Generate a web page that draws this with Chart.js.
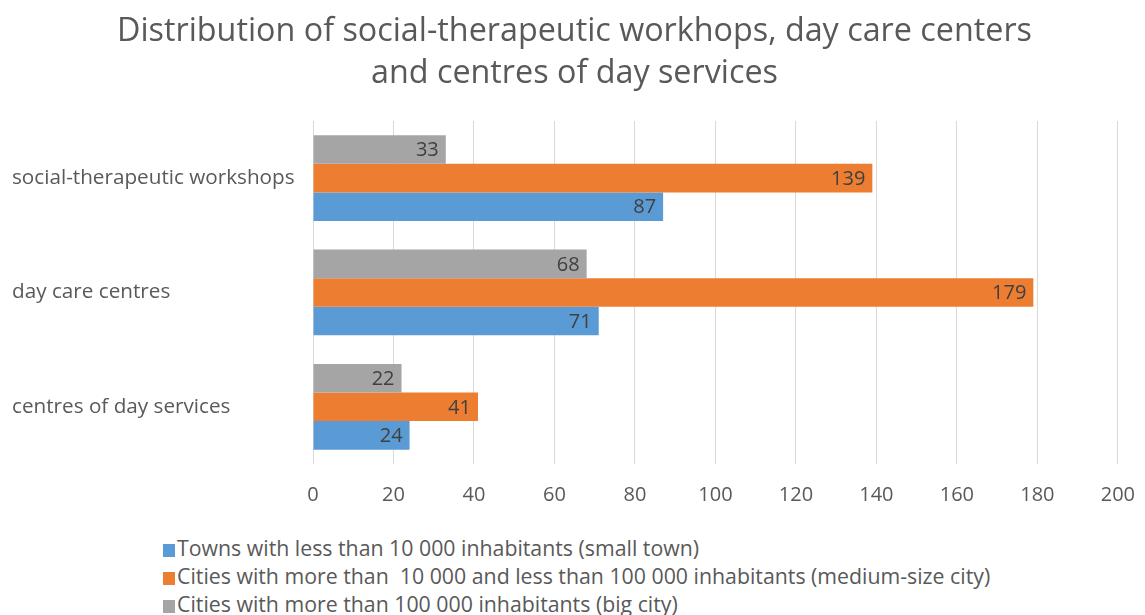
<!DOCTYPE html>
<html>
<head>
<meta charset="utf-8">
<script src="https://cdn.jsdelivr.net/npm/chart.js@4"></script>
<style>
  body { margin: 0; background: #fff; font-family: "Open Sans", sans-serif; overflow: hidden; }
  #wrap { position: relative; width: 1145px; height: 615px; }
  #chart-box { position: absolute; left: 0; top: 0; width: 1145px; height: 517px; }
  #legend { position: absolute; left: 163px; top: 534px; color: #595959; font-size: 21.3px; }
  #legend div { height: 28px; line-height: 28px; white-space: pre; }
  #legend span.box { display: inline-block; width: 12px; height: 13px; margin-right: 2px; vertical-align: -1px; }
</style>
</head>
<body>
<div id="wrap">
  <div id="chart-box"><canvas id="chart"></canvas></div>
  <div id="legend"></div>
</div>
<script>
const TITLE = [
    "Distribution of social-therapeutic workhops, day care centers",
    "and centres of day services"
];

const CATEGORIES = [
    "social-therapeutic workshops",
    "day care centres",
    "centres of day services"
];

const SMALL_TOWN = [87, 71, 24];
const MEDIUM_CITY = [139, 179, 41];
const BIG_CITY = [33, 68, 22];

const SERIES_NAMES = {
    small: "Towns with less than 10 000 inhabitants (small town)",
    medium: "Cities with more than  10 000 and less than 100 000 inhabitants (medium-size city)",
    big: "Cities with more than 100 000 inhabitants (big city)"
};

const COLORS = { small: '#5B9BD5', medium: '#ED7D31', big: '#A5A5A5' };

const X_TICKS = [0, 20, 40, 60, 80, 100, 120, 140, 160, 180, 200];

const TEXT_COLOR = '#595959';
const FONT = '"Open Sans", sans-serif';

// value labels drawn just inside the end of each bar
const barValueLabels = {
    id: 'barValueLabels',
    afterDatasetsDraw(chart) {
        const ctx = chart.ctx;
        ctx.save();
        ctx.font = `20px ${FONT}`;
        ctx.fillStyle = '#404040';
        ctx.textAlign = 'right';
        ctx.textBaseline = 'middle';
        chart.data.datasets.forEach((ds, i) => {
            chart.getDatasetMeta(i).data.forEach((bar, j) => {
                ctx.fillText(ds.data[j], bar.x - 7, bar.y + 1);
            });
        });
        ctx.restore();
    }
};

const datasets = [
    { key: 'big', data: BIG_CITY },
    { key: 'medium', data: MEDIUM_CITY },
    { key: 'small', data: SMALL_TOWN }
].map(s => ({
    label: SERIES_NAMES[s.key],
    data: s.data,
    backgroundColor: COLORS[s.key],
    barPercentage: 1.0,
    categoryPercentage: 0.75
}));

new Chart(document.getElementById('chart'), {
    type: 'bar',
    data: { labels: CATEGORIES, datasets: datasets },
    options: {
        indexAxis: 'y',
        responsive: true,
        maintainAspectRatio: false,
        animation: false,
        layout: { padding: { left: 12, right: 8, top: 11, bottom: 0 } },
        plugins: {
            legend: { display: false },
            tooltip: { enabled: false },
            title: {
                display: true,
                text: TITLE,
                color: TEXT_COLOR,
                font: { family: FONT, size: 32.3, weight: 'normal', lineHeight: 1.3 },
                padding: { top: 0, bottom: 26 }
            }
        },
        scales: {
            x: {
                min: 0,
                max: 200,
                afterBuildTicks: axis => { axis.ticks = X_TICKS.map(v => ({ value: v })); },
                // invisible tick marks add to the gap below the plot
                grid: { color: '#D9D9D9', drawTicks: true, tickLength: 9, tickColor: 'rgba(0,0,0,0)' },
                border: { display: false },
                ticks: { color: TEXT_COLOR, font: { family: FONT, size: 20 }, padding: 10 }
            },
            y: {
                afterFit: axis => { axis.width = 301; },
                grid: { display: false },
                border: { display: false },
                ticks: { color: TEXT_COLOR, font: { family: FONT, size: 20.7 }, padding: 17, crossAlign: 'far' }
            }
        }
    },
    plugins: [barValueLabels]
});

// legend listed in reverse stacking order, one series per row
const legend = document.getElementById('legend');
['small', 'medium', 'big'].forEach(key => {
    const row = document.createElement('div');
    row.innerHTML = `<span class="box" style="background:${COLORS[key]}"></span>${SERIES_NAMES[key]}`;
    legend.appendChild(row);
});
</script>
</body>
</html>
